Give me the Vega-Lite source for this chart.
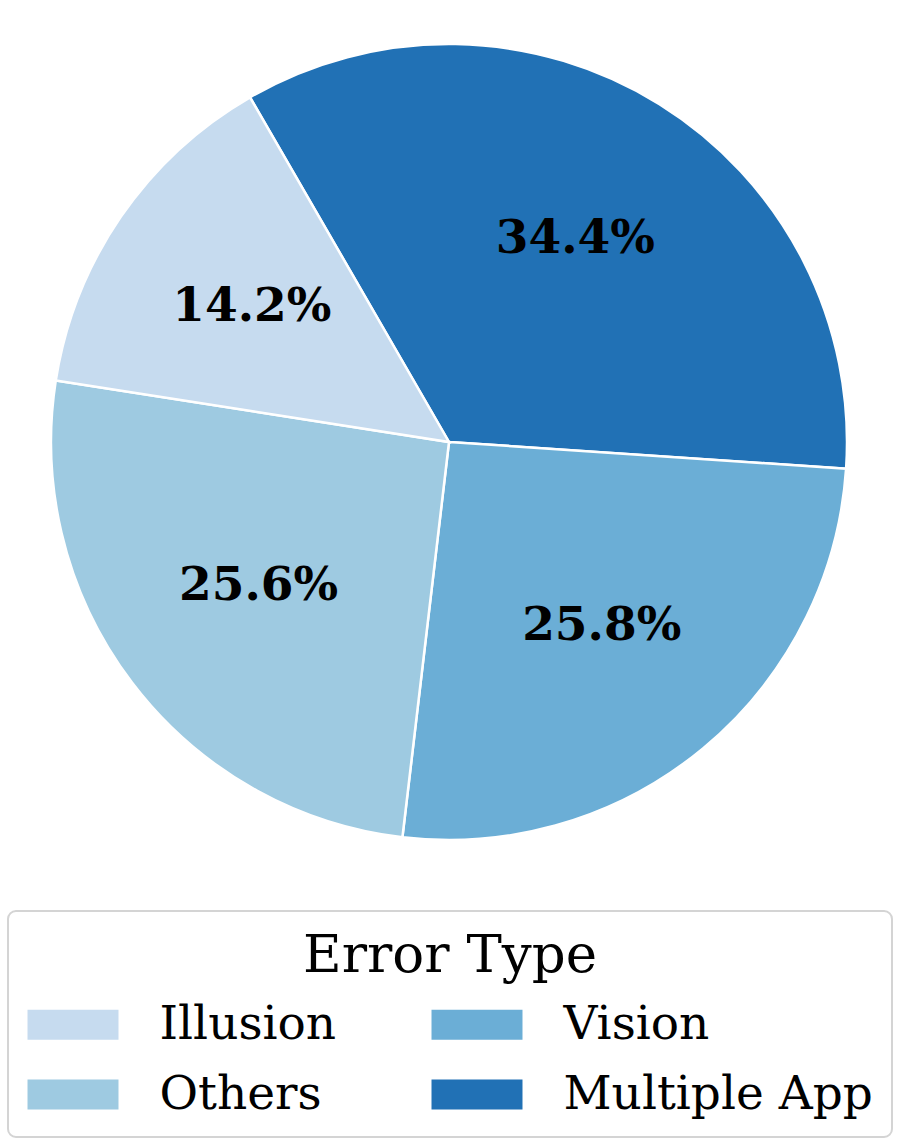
{
  "$schema": "https://vega.github.io/schema/vega-lite/v6.json",
  "width": 898,
  "height": 884,
  "padding": 0,
  "autosize": {"type": "pad"},
  "background": "white",
  "config": {"legend": {"strokeWidth": 2}},
  "data": {"values": [
    {"type": "Multiple App", "share": 0.344, "ord": 1},
    {"type": "Vision", "share": 0.258, "ord": 2},
    {"type": "Others", "share": 0.256, "ord": 3},
    {"type": "Illusion", "share": 0.142, "ord": 4}
  ]},
  "encoding": {
    "theta": {"field": "share", "type": "quantitative", "stack": true, "scale": {"range": [-0.5236, 5.7596]}},
    "order": {"field": "ord", "type": "quantitative"}
  },
  "layer": [
    {
      "mark": {"type": "arc", "outerRadius": 398, "stroke": "white", "strokeWidth": 2.5},
      "encoding": {
        "color": {
          "field": "type", "type": "nominal",
          "scale": {"domain": ["Illusion", "Vision", "Others", "Multiple App"], "range": ["#c6dbef", "#6baed6", "#9ecae1", "#2171b5"]},
          "sort": null,
          "legend": {
            "title": "Error Type",
            "orient": "none",
            "legendX": 8,
            "legendY": 911,
            "columns": 2,
            "direction": "horizontal",
            "titleAnchor": "middle",
            "titleFont": "DejaVu Serif",
            "titleFontSize": 53,
            "titleFontWeight": "normal",
            "titleColor": "black",
            "titleLimit": 850,
            "titlePadding": 18,
            "labelFont": "DejaVu Serif",
            "labelFontSize": 47,
            "labelColor": "black",
            "labelOffset": 63,
            "labelLimit": 500,
            "columnPadding": 94,
            "rowPadding": 22,
            "symbolType": "M-3.033,-1H3.033V1H-3.033Z",
            "symbolSize": 900,
            "symbolOffset": 22.5,
            "symbolStrokeWidth": 0,
            "symbolOpacity": 1,
            "strokeColor": "#d4d4d4",
            "cornerRadius": 8,
            "fillColor": "white",
            "padding": 19
          }
        }
      }
    },
    {
      "mark": {"type": "text", "radius": 239, "font": "DejaVu Serif", "fontWeight": "bold", "fontSize": 47, "color": "black", "align": "center", "baseline": "middle"},
      "encoding": {
        "text": {"field": "share", "type": "quantitative", "format": ".1%"}
      }
    }
  ]
}
